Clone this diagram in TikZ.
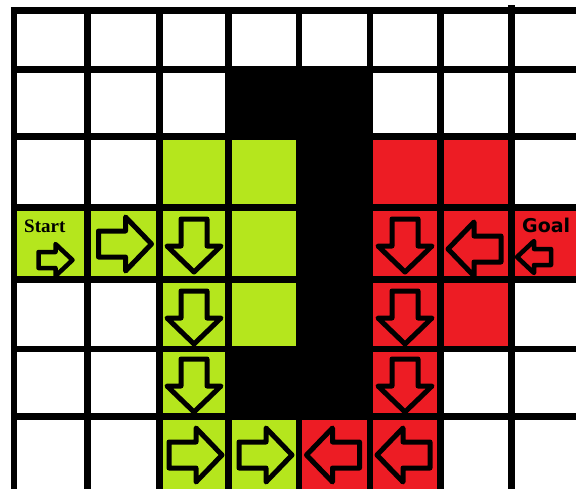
\documentclass[tikz,border=0pt]{standalone}
\usepackage{fontspec}
\newfontfamily\startfont{Liberation Serif}
\newfontfamily\goalfont{DejaVu Sans}
\definecolor{lime}{RGB}{181,230,29}
\definecolor{paintred}{RGB}{237,28,36}

\begin{document}
\begin{tikzpicture}[x=1pt, y=-1pt,
    gridline/.style={line width=6.5pt},
    blk/.style={draw=black, line width=5pt, line join=round},
    lbl/.style={inner sep=0pt, anchor=base west, font=\bfseries\fontsize{19}{19}\selectfont},
    pics/bigarrow/.style={code={\draw[blk] (-25,-13) -- (2,-13) -- (2,-27) -- (28,0) -- (2,27) -- (2,13) -- (-25,13) -- cycle;}},
    pics/smallarrow/.style={code={\draw[blk, line width=4.5pt] (-17,-8) -- (0,-8) -- (0,-16) -- (17,0) -- (0,16) -- (0,8) -- (-17,8) -- cycle;}}
]
\useasboundingbox (0,0) rectangle (576,488);
\clip (0,0) rectangle (576,488);
\fill[white] (0,0) rectangle (576,488);

\fill[lime] (159.5,136.5) rectangle (299,349);
\fill[lime] (14,207.5) rectangle (159.5,279.5);
\fill[lime] (159.5,349) rectangle (228.5,416.5);
\fill[lime] (159.5,416.5) rectangle (299,495);
\fill[paintred] (370,136.5) rectangle (511.5,349);
\fill[paintred] (511.5,207.5) rectangle (580,279.5);
\fill[paintred] (370,349) rectangle (440.5,416.5);
\fill[paintred] (299,416.5) rectangle (440.5,495);
\fill[black] (228.5,69.5) rectangle (370,136.5);
\fill[black] (299,136.5) rectangle (370,349);
\fill[black] (228.5,349) rectangle (370,416.5);

\foreach \x in {14,87.5,159.5,228.5,299,370,440.5}
    \draw[gridline] (\x,7) -- (\x,495);
\draw[gridline] (511.5,5) -- (511.5,495);
\foreach \y in {10.5,69.5,136.5,207.5,279.5,349,416.5}
    \draw[gridline] (10.75,\y) -- (580,\y);

\node[lbl] (start) at (24,232) {\startfont Start};
\node[lbl] (goal) at (522,232) {\goalfont Goal};

\pic at (55.5,260) {smallarrow};
\pic at (123.5,244) {bigarrow};
\pic[rotate=-90] at (194,244) {bigarrow};
\pic[rotate=-90] at (194,316) {bigarrow};
\pic[rotate=-90] at (194,384) {bigarrow};
\pic at (194,455) {bigarrow};
\pic at (264,455) {bigarrow};
\pic[rotate=180] at (334.5,455) {bigarrow};
\pic[rotate=180] at (405,455) {bigarrow};
\pic[rotate=-90] at (405,384) {bigarrow};
\pic[rotate=-90] at (405,316) {bigarrow};
\pic[rotate=-90] at (405,244) {bigarrow};
\pic[rotate=180] at (476,249) {bigarrow};
\pic[rotate=180] at (534,257) {smallarrow};
\end{tikzpicture}
\end{document}
